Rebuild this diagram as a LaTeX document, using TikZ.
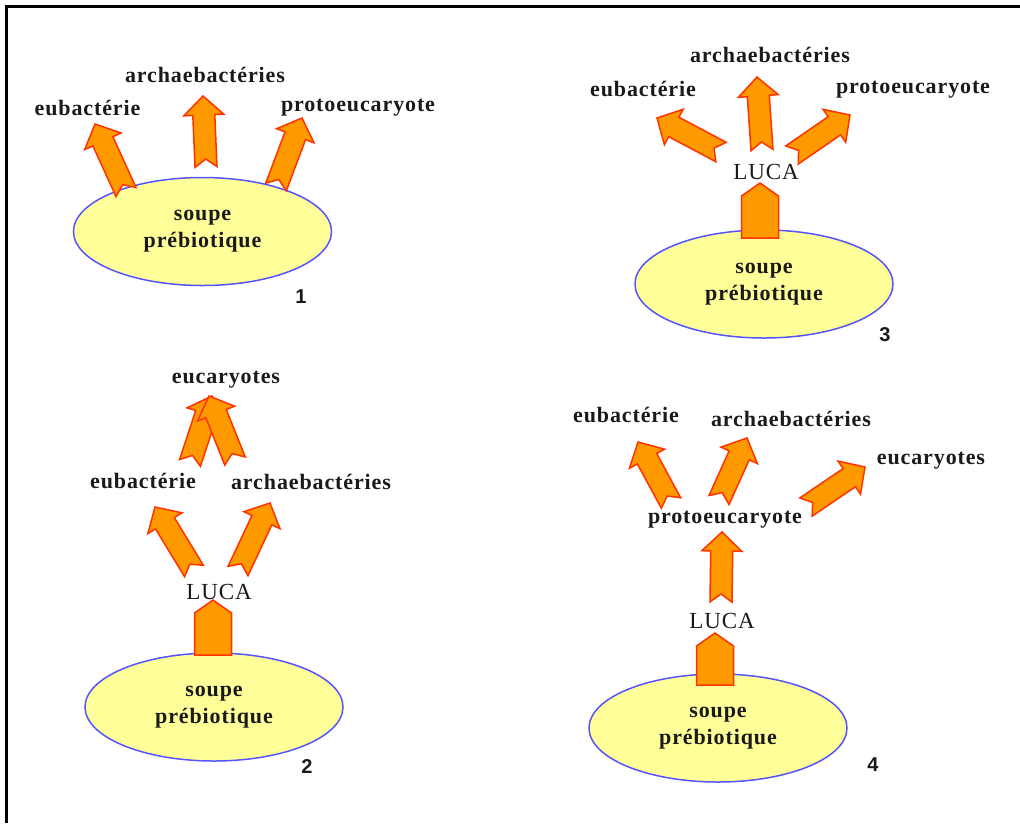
\documentclass[tikz,border=0pt]{standalone}
\usepackage{fontspec}
\setmainfont{Liberation Serif}
\newfontfamily\evlabelfont{Liberation Serif}[LetterSpace=4]
\newfontfamily\evnumfont{Liberation Sans}
\usepackage{xcolor}
\usepackage{tikz}
\usetikzlibrary{calc,shapes.geometric}
\definecolor{evOrange}{HTML}{FF9900}
\definecolor{evRed}{HTML}{FF3300}
\definecolor{evSoup}{HTML}{FFFF99}
\definecolor{evBlue}{HTML}{5555FF}
\definecolor{evInk}{HTML}{1A1A1A}
\tikzset{
  ev diagram/.style={x=1pt, y=-1pt, text=evInk, line join=miter},
  ev soup/.style={ellipse, draw=evBlue, fill=evSoup, line width=1.5pt,
    minimum width=258pt, minimum height=108pt, align=center, inner sep=0pt,
    font=\evlabelfont\bfseries\fontsize{22}{27}\selectfont},
  ev label/.style={font=\evlabelfont\bfseries\fontsize{22}{26}\selectfont, inner sep=1pt},
  ev luca/.style={font=\evlabelfont\fontsize{23}{26}\selectfont, inner sep=1pt},
  ev num/.style={font=\evnumfont\bfseries\fontsize{20}{24}\selectfont, inner sep=1pt},
  ev arrow/.style={draw=evRed, fill=evOrange, line width=1.5pt},
  ev frame/.style={draw=black, line width=3pt}
}
% notched block arrow from tail #1 to tip #2
\newcommand{\evarrow}[2]{%
  \coordinate (hb) at ($(#2)!19pt!(#1)$);
  \path[ev arrow] ($(#1)!11pt!90:(#2)$) -- ($(#1)!8pt!(#2)$) -- ($(#1)!11pt!-90:(#2)$)
    -- ($(hb)!11pt!-90:(#2)$) -- ($(hb)!20pt!-90:(#2)$) -- (#2)
    -- ($(hb)!20pt!90:(#2)$) -- ($(hb)!11pt!90:(#2)$) -- cycle;}
% short wide arrow out of the soup
\newcommand{\evstub}[2]{%
  \coordinate (sh) at ($(#2)!13pt!(#1)$);
  \path[ev arrow] ($(#1)!18.5pt!90:(#2)$) -- ($(sh)!18.5pt!90:(#2)$) -- (#2)
    -- ($(sh)!18.5pt!-90:(#2)$) -- ($(#1)!18.5pt!-90:(#2)$) -- cycle;}

\begin{document}
\begin{tikzpicture}[ev diagram]
\useasboundingbox (0,0) rectangle (1020,823);
\draw[ev frame] (6.5,823) -- (6.5,6.5) -- (1020,6.5);

% 1
\node[ev soup] (soupA) at (202.5,231.5) {soupe\\prébiotique};
\node[ev label] (eubA) at (87.5,108) {eubactérie};
\node[ev label] (archA) at (205,75) {archaebactéries};
\node[ev label] (protA) at (358,108) {protoeucaryote};
\node[ev num] (numA) at (301,297) {1};
\coordinate (eubA-t) at (126,192);  \coordinate (eubA-h) at (95,124);
\coordinate (archA-t) at (206,167); \coordinate (archA-h) at (203,96);
\coordinate (protA-t) at (276,187); \coordinate (protA-h) at (302,118);
\evarrow{eubA-t}{eubA-h}
\evarrow{archA-t}{archA-h}
\evarrow{protA-t}{protA-h}

% 2
\node[ev soup] (soupB) at (214,707) {soupe\\prébiotique};
\node[ev luca] (lucaB) at (219,592) {LUCA};
\node[ev label] (eubB) at (143,481) {eubactérie};
\node[ev label] (archB) at (311,482) {archaebactéries};
\node[ev label] (eucB) at (226,380) {eucaryotes};
\node[ev num] (numB) at (307,767) {2};
\coordinate (lucaB-t) at (213,655); \coordinate (lucaB-h) at (213,600);
\coordinate (eubB-t) at (194,571);  \coordinate (eubB-h) at (155,507);
\coordinate (archB-t) at (238,571); \coordinate (archB-h) at (270,503);
\coordinate (eucB-t1) at (190,463); \coordinate (eucB-h1) at (212,396);
\coordinate (eucB-t2) at (235,461); \coordinate (eucB-h2) at (209,396);
\evstub{lucaB-t}{lucaB-h}
\evarrow{eubB-t}{eubB-h}
\evarrow{archB-t}{archB-h}
\evarrow{eucB-t1}{eucB-h1}
\evarrow{eucB-t2}{eucB-h2}

% 3
\node[ev soup] (soupC) at (764,284) {soupe\\prébiotique};
\node[ev luca] (lucaC) at (766,172) {LUCA};
\node[ev label] (eubC) at (643,89) {eubactérie};
\node[ev label] (archC) at (770,55) {archaebactéries};
\node[ev label] (protC) at (913,90) {protoeucaryote};
\node[ev num] (numC) at (885,335) {3};
\coordinate (lucaC-t) at (760,238); \coordinate (lucaC-h) at (760,183);
\coordinate (eubC-t) at (721,152);  \coordinate (eubC-h) at (657,118);
\coordinate (archC-t) at (762,150); \coordinate (archC-h) at (757,77);
\coordinate (protC-t) at (792,155); \coordinate (protC-h) at (850,115);
\evstub{lucaC-t}{lucaC-h}
\evarrow{eubC-t}{eubC-h}
\evarrow{archC-t}{archC-h}
\evarrow{protC-t}{protC-h}

% 4
\node[ev soup] (soupD) at (718,728) {soupe\\prébiotique};
\node[ev luca] (lucaD) at (722,621) {LUCA};
\node[ev label] (protD) at (725,520) {protoeucaryote};
\node[ev label] (eubD) at (626,415) {eubactérie};
\node[ev label] (archD) at (791,419) {archaebactéries};
\node[ev label] (eucD) at (931,461) {eucaryotes};
\node[ev num] (numD) at (873,765) {4};
\coordinate (lucaD-t) at (715,685); \coordinate (lucaD-h) at (715,633);
\coordinate (protD-t) at (721,602); \coordinate (protD-h) at (722,532);
\coordinate (eubD-t) at (671,503);  \coordinate (eubD-h) at (638,442);
\coordinate (archD-t) at (719,500); \coordinate (archD-h) at (747,438);
\coordinate (eucD-t) at (806,507);  \coordinate (eucD-h) at (865,467);
\evstub{lucaD-t}{lucaD-h}
\evarrow{protD-t}{protD-h}
\evarrow{eubD-t}{eubD-h}
\evarrow{archD-t}{archD-h}
\evarrow{eucD-t}{eucD-h}
\end{tikzpicture}
\end{document}
